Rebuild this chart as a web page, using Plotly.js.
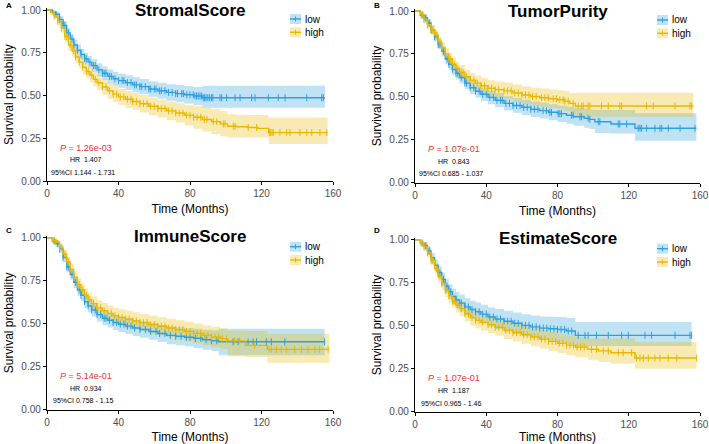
<!DOCTYPE html>
<html><head><meta charset="utf-8">
<script src="https://cdn.plot.ly/plotly-3.0.1.min.js"></script>
<style>html,body{margin:0;padding:0;background:#fff}#plot{width:709px;height:444px}</style>
</head><body><div id="plot"></div>
<script>
// ---------- DATA ----------
const panelTitles = ["StromalScore", "TumorPurity", "ImmuneScore", "EstimateScore"];
const panelLetters = ["A", "B", "C", "D"];
const groupNames = ["low", "high"];
const pTexts = ["1.26e-03", "1.07e-01", "5.14e-01", "1.07e-01"];
const hrTexts = ["1.407", "0.843", "0.934", "1.187"];
const ciTexts = ["1.144 - 1.731", "0.685 - 1.037", "0.758 - 1.15", "0.965 - 1.46"];
const xTicks = [0, 40, 80, 120, 160];
const yTicks = [0, 0.25, 0.5, 0.75, 1];
const yTickText = ["0.00", "0.25", "0.50", "0.75", "1.00"];

// Panel A: StromalScore
const stromal_low_t  = [0,3,5,7,9,11,13,15,17,19,21,23,25,28,31,34,37,40,44,48,52,57,62,67,72,77,82,87];
const stromal_low_s  = [1,.985,.975,.945,.91,.866,.83,.795,.765,.74,.715,.695,.675,.65,.63,.612,.598,.587,.575,.562,.552,.538,.528,.518,.511,.504,.497,.487];
const stromal_low_up = [1,1,.99,.965,.935,.893,.86,.827,.798,.774,.75,.731,.712,.688,.669,.652,.639,.629,.618,.606,.597,.584,.575,.566,.561,.555,.55,.557];
const stromal_low_lo = [1,.97,.96,.925,.885,.839,.8,.763,.732,.706,.68,.659,.638,.612,.591,.572,.557,.545,.532,.518,.507,.492,.481,.47,.461,.453,.444,.429];
const stromal_low_end = 155.5;
const stromal_low_cens = [5,7,9,10,12,14,15,17,19,21,22,24,26,27,29,31,32,33,35,36,38,40,42,43,45,47,49,50,52,53,55,57,58,60,61,63,64,66,68,70,72,73,75.4,76.3,78.2,80,81.8,82.8,83.7,84.6,85.6,86.5,87.4,88.2,89,90,91,92,92.8,96.8,97.7,100.5,105.2,108,114.5,116.4,123.8,129.4,133.2,145.3,153.7,154.6];
const stromal_high_t  = [0,2,4,6,8,10,12,14,16,18,20,22,24,26,28,31,34,37,40,44,48,52,57,62,67,72,77,82,87,92,97,101,106,112,118,124];
const stromal_high_s  = [1,.985,.965,.935,.895,.845,.795,.76,.725,.695,.665,.64,.618,.595,.575,.55,.527,.508,.492,.478,.465,.452,.437,.424,.41,.398,.385,.373,.36,.347,.334,.32,.317,.313,.308,.283];
const stromal_high_up = [1,1,.985,.96,.925,.878,.83,.797,.763,.734,.705,.681,.66,.638,.619,.595,.573,.555,.54,.527,.515,.503,.489,.477,.465,.454,.445,.44,.43,.42,.41,.39,.388,.386,.386,.372];
const stromal_high_lo = [1,.97,.945,.91,.865,.812,.76,.723,.687,.656,.625,.599,.576,.552,.531,.505,.481,.461,.444,.429,.415,.401,.385,.371,.355,.342,.325,.305,.29,.275,.262,.255,.255,.255,.255,.216];
const stromal_high_end = 157;
const stromal_high_cens = [4,6,8,10,11,13,15,16,18,20,22,23,25,27,29,31,33,35,37,39,41,43,45,47,48,50,52,54,56,58,60,62,64,66,68,70,72,74,76,78,80,82,84,86,88,89.5,93,95,98.6,99.6,104.2,105.2,112.6,117.3,124.4,125.1,125.9,126.6,130.3,134.1,135.9,141.5,145.3,148.1,152.7,156.5];

// Panel B: TumorPurity
const purity_low_t  = [0,3,5,7,9,11,13,15,17,19,21,23,25,28,31,34,37,41,45,50,55,60,65,70,75,80,85,89,95,98,101,110,123.5];
const purity_low_s  = [1,.975,.96,.93,.89,.85,.805,.765,.72,.69,.66,.637,.613,.58,.553,.533,.515,.497,.48,.462,.45,.439,.428,.42,.41,.402,.393,.384,.375,.369,.355,.342,.317];
const purity_low_up = [1,.99,.98,.953,.915,.877,.833,.795,.751,.722,.693,.671,.648,.616,.59,.571,.554,.537,.521,.504,.493,.483,.473,.466,.457,.45,.443,.436,.43,.425,.423,.423,.404];
const purity_low_lo = [1,.96,.94,.907,.865,.823,.777,.735,.689,.658,.627,.603,.578,.544,.516,.495,.476,.457,.439,.42,.407,.395,.383,.374,.363,.354,.343,.332,.32,.313,.29,.287,.245];
const purity_low_end = 158;
const purity_low_cens = [4,6,8,9,11,13,14,16,18,19,21,23,24,26,28,29,31,33,34,36,38,40,42,44,46,48,49,51,53,55,57,59,61,63,65,67,69,71.9,73.8,75.7,76.6,80.4,81.3,82.2,87.9,88.8,92.6,93.5,97.2,98.2,102.9,103.8,114.1,115,118.8,125.3,126.3,127.2,130,134.7,137.5,138.5,142.2,148.8,157.2];
const purity_high_t  = [0,3,5,7,9,11,13,15,17,19,21,23,25,28,31,34,37,41,45,50,55,60,65,70,75,80,84,87,90];
const purity_high_s  = [1,.98,.95,.92,.89,.86,.82,.785,.75,.72,.69,.665,.643,.617,.597,.58,.565,.55,.542,.535,.522,.511,.502,.495,.489,.483,.475,.462,.447];
const purity_high_up = [1,1,.97,.945,.917,.889,.851,.818,.785,.757,.729,.705,.685,.66,.641,.625,.611,.597,.59,.584,.572,.562,.554,.548,.543,.538,.532,.522,.524];
const purity_high_lo = [1,.96,.93,.895,.863,.831,.789,.752,.715,.683,.651,.625,.601,.574,.553,.535,.519,.503,.494,.486,.472,.46,.45,.442,.435,.428,.418,.402,.384];
const purity_high_end = 156.3;
const purity_high_cens = [4,5,7,9,10,12,14,15,17,19,20,22,24,26,27,29,31,33,35,37,39,41,43,45,47,50,52,54,56,58,60,62,64,66,68,71,72.9,74.8,77.6,79.4,81.3,83.2,84.1,86,88.8,91.6,93.5,94.4,97.2,98.2,104.7,108.5,115,116,130,133.8,146,154.4,155.3];

// Panel C: ImmuneScore
const immune_low_t  = [0,3,5,7,9,11,13,15,17,19,21,23,25,28,31,34,37,40,44,48,52,57,62,67,72,77,82,87,92,96];
const immune_low_s  = [1,.98,.965,.935,.885,.83,.786,.74,.697,.665,.628,.603,.58,.553,.532,.52,.507,.497,.486,.475,.466,.455,.443,.432,.427,.421,.415,.407,.401,.395];
const immune_low_up = [1,.99,.98,.955,.91,.858,.816,.772,.73,.699,.664,.64,.618,.592,.572,.561,.55,.541,.531,.521,.513,.503,.492,.483,.479,.474,.47,.465,.462,.471];
const immune_low_lo = [1,.965,.948,.912,.858,.8,.755,.707,.663,.63,.591,.565,.541,.513,.491,.478,.463,.452,.44,.428,.418,.406,.393,.38,.374,.367,.359,.349,.341,.316];
const immune_low_end = 155.3;
const immune_low_cens = [4,6,7,9,11,12,14,16,18,19,21,23,25,27,28,30,32,33,35,37,39,41,43,45,47,49,52,55,58,61,63,66,69,72,75,78,80,83,86,89,92,95,104.1,106.9,112.5,115.3,117.2,122.7,125.5,133,155.3];
const immune_high_t  = [0,3,5,7,9,11,13,15,17,19,21,23,25,28,31,34,37,40,44,48,52,57,62,67,72,77,82,87,92,97,101,111,123.3];
const immune_high_s  = [1,.985,.975,.945,.905,.86,.815,.77,.727,.697,.665,.64,.617,.592,.575,.56,.546,.536,.526,.516,.506,.495,.485,.475,.465,.455,.444,.433,.423,.413,.4,.374,.351];
const immune_high_up = [1,1,.99,.965,.93,.888,.846,.804,.764,.735,.705,.681,.659,.636,.62,.606,.593,.584,.575,.566,.557,.547,.538,.529,.52,.511,.501,.491,.482,.473,.461,.458,.442];
const immune_high_lo = [1,.97,.958,.925,.88,.832,.784,.736,.69,.659,.625,.599,.575,.548,.53,.514,.499,.488,.477,.466,.455,.443,.432,.421,.41,.399,.387,.375,.364,.353,.31,.306,.273];
const immune_high_end = 158;
const immune_high_cens = [4,5,7,8,10,12,13,15,17,18,20,22,24,26,28,30,32,34,36,38,40,42,44,46,48,50,52,54,56,58,60,62,64,66,68,70,72,74,76,78,80,82,84,86,88,90,92,94,96,98,100.4,105,107.8,116.2,124.2,125.5,128.3,131.1,133.9,138.6,142.3,146,149.8,152.5,157.2];

// Panel D: EstimateScore
const estimate_low_t  = [0,3,5,7,9,11,13,15,17,19,21,23,25,28,31,34,37,41,45,50,55,60,65,70,75,80,85,90];
const estimate_low_s  = [1,.98,.965,.935,.895,.852,.81,.77,.73,.698,.67,.65,.632,.61,.595,.582,.568,.551,.54,.527,.515,.503,.494,.487,.483,.479,.47,.445];
const estimate_low_up = [1,.99,.985,.96,.925,.885,.846,.809,.771,.741,.715,.696,.68,.66,.646,.635,.622,.607,.598,.587,.577,.567,.56,.555,.553,.551,.545,.522];
const estimate_low_lo = [1,.965,.945,.91,.865,.819,.774,.731,.689,.655,.625,.604,.584,.56,.544,.529,.514,.495,.482,.467,.453,.439,.428,.419,.413,.407,.395,.383];
const estimate_low_end = 155.3;
const estimate_low_cens = [4,6,8,9,11,13,14,16,18,20,21,23,25,26,28,30,32,34,36,38,40,42,44,46,48,50,52,54,56,58,60,62,64,66,68,70,72,74,76,78,80,82,84,86,88,91.6,95.4,97.2,101.9,108.5,116,119.7,129.1,132.8,146,154.4,155.3];
const estimate_high_t  = [0,3,5,7,9,11,13,15,17,19,21,23,25,28,31,34,37,41,45,50,55,60,65,70,75,80,85,90,97,103,110,123.5];
const estimate_high_s  = [1,.98,.96,.925,.88,.832,.785,.745,.705,.675,.643,.62,.6,.57,.548,.532,.52,.507,.492,.475,.461,.449,.436,.423,.41,.399,.388,.377,.364,.355,.344,.313];
const estimate_high_up = [1,1,.985,.953,.91,.865,.82,.781,.743,.714,.684,.662,.643,.614,.594,.579,.568,.556,.542,.526,.513,.502,.49,.478,.466,.456,.446,.436,.426,.426,.426,.406];
const estimate_high_lo = [1,.96,.935,.897,.85,.799,.75,.709,.667,.636,.602,.578,.557,.526,.502,.485,.472,.458,.442,.424,.409,.396,.382,.368,.354,.342,.33,.318,.303,.29,.28,.251];
const estimate_high_end = 158;
const estimate_high_cens = [4,5,7,9,10,12,14,15,17,19,21,22,24,26,28,30,32,34,36,38,41,43,45,47,49,51,53,55,57,59,61,63,65,67,69,71,73,75,77,79,81,83,85,87,89,91,93,95,99.1,101.9,105.7,108.5,114.1,116.9,121.6,124.4,126.3,128.2,131,134.7,137.5,142.2,146.9,158.1];

// ---------- STYLE / LAYOUT ----------
const W = 709, H = 444;
const lineColors = ["#2E9FDF", "#E7B800"];
const bandColors = ["rgba(46,159,223,0.30)", "rgba(231,184,0,0.30)"];
const FONT = "Liberation Sans, Arial, Helvetica, sans-serif";

// pixel boxes of each panel: [left, right, top(y=1), bottom(y=0)]
const boxes = [[47, 333, 10, 181], [415, 700, 11, 182.7], [47, 333, 237.7, 409.7], [415, 700, 239.7, 412]];
// pixel y of the top edge of each title's text box, and of each panel letter
const titleTops = [0, 1, 226.5, 227.5];
const letterYs = [6, 6, 230, 230];
const YMAX = 1.01;

const curves = [
  [[stromal_low_t, stromal_low_s, stromal_low_up, stromal_low_lo, stromal_low_end, stromal_low_cens],
   [stromal_high_t, stromal_high_s, stromal_high_up, stromal_high_lo, stromal_high_end, stromal_high_cens]],
  [[purity_low_t, purity_low_s, purity_low_up, purity_low_lo, purity_low_end, purity_low_cens],
   [purity_high_t, purity_high_s, purity_high_up, purity_high_lo, purity_high_end, purity_high_cens]],
  [[immune_low_t, immune_low_s, immune_low_up, immune_low_lo, immune_low_end, immune_low_cens],
   [immune_high_t, immune_high_s, immune_high_up, immune_high_lo, immune_high_end, immune_high_cens]],
  [[estimate_low_t, estimate_low_s, estimate_low_up, estimate_low_lo, estimate_low_end, estimate_low_cens],
   [estimate_high_t, estimate_high_s, estimate_high_up, estimate_high_lo, estimate_high_end, estimate_high_cens]]
];

function stepAt(t, s, c) { let v = s[0]; for (let i = 0; i < t.length; i++) { if (t[i] <= c) v = s[i]; else break; } return v; }
function ext(arr, v) { return arr.concat([v]); }
const px = x => x / W, py = y => 1 - y / H;

const traces = [], shapes = [], annotations = [];
const layout = {
  width: W, height: H, margin: {l: 0, r: 0, t: 0, b: 0},
  paper_bgcolor: "#fff", plot_bgcolor: "#fff", showlegend: false,
  font: {family: FONT, color: "#000"}
};

for (let p = 0; p < 4; p++) {
  const sfx = p === 0 ? "" : String(p + 1);
  const xa = "x" + sfx, ya = "y" + sfx;
  const [l, r, top, bot] = boxes[p];
  const topR = bot - (bot - top) * YMAX;
  layout["xaxis" + sfx] = {
    domain: [px(l), px(r)], anchor: ya, range: [0, 160], tickvals: xTicks,
    showline: true, linecolor: "#000", linewidth: 1.2, ticks: "outside", ticklen: 3, tickwidth: 1, tickcolor: "#000",
    showgrid: false, zeroline: false, tickfont: {size: 10, color: "#4d4d4d", family: FONT},
    title: {text: "Time (Months)", font: {size: 12, color: "#000", family: FONT}, standoff: 6}
  };
  layout["yaxis" + sfx] = {
    domain: [py(bot), py(topR)], anchor: xa, range: [0, YMAX], tickvals: yTicks, ticktext: yTickText,
    showline: true, linecolor: "#000", linewidth: 1.2, ticks: "outside", ticklen: 3, tickwidth: 1, tickcolor: "#000",
    showgrid: false, zeroline: false, tickfont: {size: 10, color: "#4d4d4d", family: FONT},
    title: {text: "Survival probability", font: {size: 12, color: "#000", family: FONT}, standoff: 5}
  };
  // bands
  for (let g = 0; g < 2; g++) {
    const [t, s, up, lo, end] = curves[p][g];
    const tt = ext(t, end);
    traces.push({x: tt, y: ext(up, up[up.length - 1]), xaxis: xa, yaxis: ya, mode: "lines", line: {width: 0, shape: "hv"}, hoverinfo: "skip"});
    traces.push({x: tt, y: ext(lo, lo[lo.length - 1]), xaxis: xa, yaxis: ya, mode: "lines", line: {width: 0, shape: "hv"}, fill: "tonexty", fillcolor: bandColors[g], hoverinfo: "skip"});
  }
  // curves and censor marks
  for (let g = 0; g < 2; g++) {
    const [t, s, up, lo, end, cens] = curves[p][g];
    traces.push({x: ext(t, end), y: ext(s, s[s.length - 1]), xaxis: xa, yaxis: ya, mode: "lines", name: groupNames[g],
      line: {color: lineColors[g], width: 1.4, shape: "hv"}});
    traces.push({x: cens, y: cens.map(c => stepAt(t, s, c)), xaxis: xa, yaxis: ya, mode: "markers", name: groupNames[g] + " censored",
      marker: {symbol: "line-ns-open", size: 5, color: lineColors[g], line: {color: lineColors[g], width: 1}}, cliponaxis: false});
  }
  // title and panel letter
  const cx = (l + r) / 2;
  annotations.push({xref: "paper", yref: "paper", x: px(cx), y: py(titleTops[p]), text: "<b>" + panelTitles[p] + "</b>",
    showarrow: false, xanchor: "center", yanchor: "top", borderpad: 0, font: {size: 17, family: FONT, color: "#000"}});
  annotations.push({xref: "paper", yref: "paper", x: px(l - 43), y: py(letterYs[p]), text: "<b>" + panelLetters[p] + "</b>",
    showarrow: false, xanchor: "left", yanchor: "middle", font: {size: 8, family: FONT, color: "#000"}});
  // stats text
  annotations.push({xref: xa, yref: ya, x: 22, y: 0.195, text: "<i>P</i> = " + pTexts[p], showarrow: false,
    xanchor: "center", yanchor: "middle", font: {size: 9, family: FONT, color: "#F03232"}});
  annotations.push({xref: xa, yref: ya, x: 22, y: 0.124, text: "HR  " + hrTexts[p], showarrow: false,
    xanchor: "center", yanchor: "middle", font: {size: 7, family: FONT, color: "#000"}});
  annotations.push({xref: xa, yref: ya, x: 20, y: 0.052, text: "95%CI " + ciTexts[p], showarrow: false,
    xanchor: "center", yanchor: "middle", font: {size: 7, family: FONT, color: "#000"}});
  // legend
  const lx0 = r - 43, ly0 = top + 9;
  for (let g = 0; g < 2; g++) {
    const yc = ly0 + g * 13.3;
    shapes.push({type: "rect", xref: "paper", yref: "paper", x0: px(lx0), x1: px(lx0 + 11), y0: py(yc - 5), y1: py(yc + 5),
      fillcolor: bandColors[g], line: {width: 0}, layer: "above"});
    shapes.push({type: "line", xref: "paper", yref: "paper", x0: px(lx0), x1: px(lx0 + 11), y0: py(yc), y1: py(yc),
      line: {color: lineColors[g], width: 1.4}, layer: "above"});
    shapes.push({type: "line", xref: "paper", yref: "paper", x0: px(lx0 + 5.5), x1: px(lx0 + 5.5), y0: py(yc - 2.5), y1: py(yc + 2.5),
      line: {color: lineColors[g], width: 1}, layer: "above"});
    annotations.push({xref: "paper", yref: "paper", x: px(lx0 + 12.5), y: py(yc), text: groupNames[g], showarrow: false,
      xanchor: "left", yanchor: "middle", font: {size: 10, family: FONT, color: "#000"}});
  }
}
layout.shapes = shapes;
layout.annotations = annotations;
Plotly.newPlot("plot", traces, layout, {staticPlot: true, displayModeBar: false});
</script>
</body></html>
